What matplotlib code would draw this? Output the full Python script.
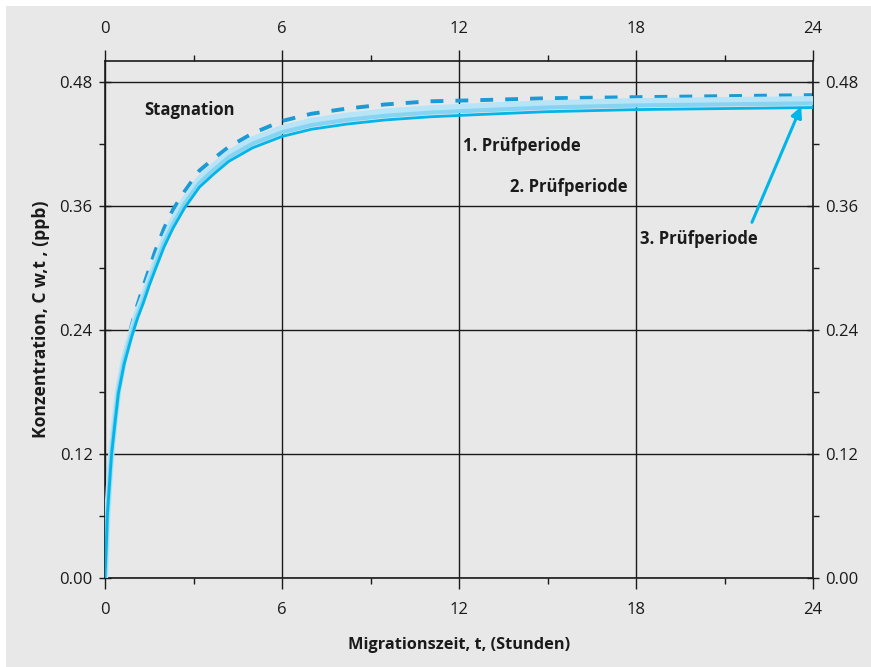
import numpy as np
import matplotlib.pyplot as plt
from matplotlib.patches import Rectangle
from matplotlib.ticker import MultipleLocator

plt.rcParams['font.family'] = ['Open Sans', 'DejaVu Sans']

# values
t = [0, 0.04, 0.08, 0.15, 0.22, 0.33, 0.45, 0.65, 0.9, 1.1, 1.3, 1.5, 1.7, 2.0,
     2.3, 2.7, 3.2, 3.7, 4.2, 5.0, 6.0, 7.0, 8.2, 9.5, 11, 12.5, 15, 18, 21, 24]
periode1 = [0, 0.031, 0.063, 0.094, 0.123, 0.152, 0.182, 0.212, 0.238, 0.257,
            0.272, 0.289, 0.304, 0.327, 0.346, 0.366, 0.386, 0.399, 0.411, 0.424,
            0.435, 0.442, 0.447, 0.451, 0.454, 0.456, 0.459, 0.461, 0.462, 0.463]
periode2 = [0, 0.03, 0.062, 0.092, 0.121, 0.150, 0.180, 0.210, 0.236, 0.254,
            0.269, 0.286, 0.301, 0.324, 0.342, 0.362, 0.382, 0.395, 0.407, 0.420,
            0.431, 0.438, 0.443, 0.447, 0.450, 0.452, 0.455, 0.457, 0.458, 0.459]
periode3 = [0, 0.029, 0.061, 0.090, 0.119, 0.148, 0.178, 0.207, 0.233, 0.251,
            0.266, 0.283, 0.298, 0.320, 0.338, 0.358, 0.378, 0.391, 0.403, 0.416,
            0.427, 0.434, 0.439, 0.443, 0.446, 0.448, 0.451, 0.453, 0.454, 0.455]
stagnation = [0, 0.03, 0.062, 0.092, 0.121, 0.151, 0.182, 0.214, 0.244, 0.264,
              0.282, 0.299, 0.316, 0.338, 0.356, 0.374, 0.394, 0.406, 0.417, 0.430,
              0.442, 0.449, 0.454, 0.458, 0.461, 0.462, 0.464, 0.465, 0.466, 0.467]

x_ticks = [0, 6, 12, 18, 24]
y_ticks = [0.00, 0.12, 0.24, 0.36, 0.48]

bg = '#e8e8e8'
ink = '#1a1a1a'
fig = plt.figure(figsize=(8.71, 6.67), dpi=100, facecolor='white')
fig.patches.append(Rectangle((6 / 871, 0), 1, 1 - 6 / 667, transform=fig.transFigure,
                             facecolor=bg, edgecolor='none', zorder=-10))

ax = fig.add_axes([105 / 871, 89 / 667, 708 / 871, 517 / 667])
ax.set_facecolor(bg)
ax.set_xlim(0, 24)
ax.set_ylim(0, 0.5)

ax.plot(t, stagnation, color='#1a9ad6', lw=2.8, dashes=(3.3, 3.1), zorder=2)
ax.plot(t, periode1, color='#b7e4f6', lw=4.6, solid_capstyle='butt', zorder=3)
ax.plot(t, periode2, color='#86d4f2', lw=3.0, solid_capstyle='butt', zorder=4)
ax.plot(t, periode3, color='#00b5e8', lw=2.0, solid_capstyle='butt', zorder=5)

ax.set_xticks(x_ticks)
ax.set_yticks(y_ticks)
ax.set_xticklabels([str(v) for v in x_ticks])
ax.set_yticklabels(['%.2f' % v for v in y_ticks])
ax.xaxis.set_minor_locator(MultipleLocator(3))
ax.yaxis.set_minor_locator(MultipleLocator(0.06))
ax.grid(True, which='major', color=ink, lw=1)
ax.set_axisbelow(True)
ax.tick_params(which='both', colors=ink, width=1,
               bottom=True, top=True, left=True, right=True,
               labelbottom=True, labeltop=True, labelleft=True, labelright=True)
ax.tick_params(axis='x', which='major', direction='out', length=8, pad=9, labelsize=12)
ax.tick_params(axis='x', which='minor', direction='out', length=4)
ax.tick_params(axis='y', which='major', direction='inout', length=8, pad=5, labelsize=12)
ax.tick_params(axis='y', which='minor', direction='out', length=4)
for s in ax.spines.values():
    s.set_color(ink)
    s.set_linewidth(1.2)

ax.set_xlabel('Migrationszeit, t, (Stunden)', fontsize=11.8, fontweight='bold',
              color=ink, labelpad=14)
ax.set_ylabel('Konzentration, C w,t , (ppb)', fontsize=12.6, fontweight='bold',
              color=ink, labelpad=7)

ax.text(1.33, 0.453, 'Stagnation', fontsize=12, fontweight='bold', va='center', color=ink)
ax.text(12.12, 0.418, '1. Prüfperiode', fontsize=12, fontweight='bold', va='center', color=ink)
ax.text(13.72, 0.378, '2. Prüfperiode', fontsize=12, fontweight='bold', va='center', color=ink)
ax.text(18.12, 0.328, '3. Prüfperiode', fontsize=12, fontweight='bold', va='center', color=ink)
ax.annotate('', xy=(23.6, 0.456), xytext=(21.93, 0.344),
            arrowprops=dict(arrowstyle='-|>', color='#00b5e8', lw=2.2,
                            mutation_scale=16, shrinkA=0, shrinkB=0), zorder=7)

fig.savefig('out.png', dpi=100, facecolor=fig.get_facecolor())
